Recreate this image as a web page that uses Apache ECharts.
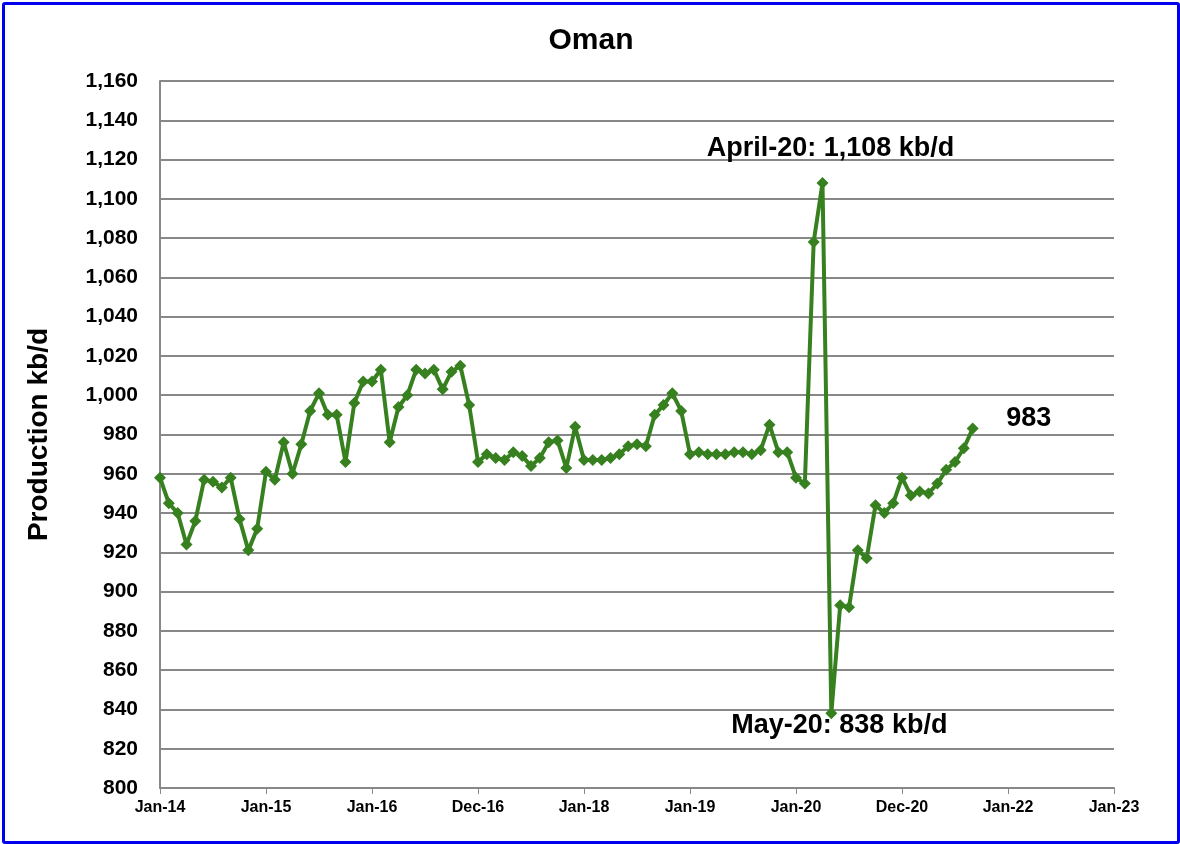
<!DOCTYPE html>
<html><head><meta charset="utf-8">
<script src="https://cdn.jsdelivr.net/npm/echarts@6/dist/echarts.min.js"></script>
<style>html,body{margin:0;padding:0;background:#fff}#c{position:absolute;left:2px;top:2px;width:1172px;height:836px;border:3px solid #0000ee;border-radius:3px}</style>
</head><body><div id="c"></div>
<script>
const tickLabels=['Jan-14','Jan-15','Jan-16','Dec-16','Jan-18','Jan-19','Jan-20','Dec-20','Jan-22','Jan-23'];
const y2014=[958,945,940,924,936,957,956,953,958,937,921,932];
const y2015=[961,957,976,960,975,992,1001,990,990,966,996,1007];
const y2016=[1007,1013,976,994,1000,1013,1011,1013,1003,1012,1015,995];
const y2017=[966,970,968,967,971,969,964,968,976,977,963,984];
const y2018=[967,967,967,968,970,974,975,974,990,995,1001,992];
const y2019=[970,971,970,970,970,971,971,970,972,985,971,971];
const y2020=[958,955,1078,1108,838,893,892,921,917,944,940,945];
const y2021=[958,949,951,950,955,962,966,973,983];
const values=[].concat(y2014,y2015,y2016,y2017,y2018,y2019,y2020,y2021);
const data=values.map((v,i)=>[i/12,v]);
const chart=echarts.init(document.getElementById('c'));
const bold={fontFamily:'Liberation Sans, Arial',fontWeight:'bold',color:'#000'};
chart.setOption({
 animation:false,
 title:{text:'Oman',left:'center',top:16,textStyle:{...bold,fontSize:30}},
 grid:{left:155,right:63,top:76,bottom:53},
 xAxis:{type:'value',min:0,max:9,interval:1,
  axisLine:{lineStyle:{color:'#888',width:2}},axisTick:{show:true,length:6,lineStyle:{color:'#888'}},
  splitLine:{show:false},
  axisLabel:{...bold,fontSize:16,margin:12,formatter:v=>tickLabels[Math.round(v)]}},
 yAxis:{type:'value',min:800,max:1160,interval:20,
  name:'Production kb/d',nameLocation:'middle',nameGap:107,nameTextStyle:{...bold,fontSize:28},
  axisLine:{show:true,lineStyle:{color:'#888',width:2}},axisTick:{show:false},
  splitLine:{lineStyle:{color:'#888',width:2}},
  axisLabel:{...bold,fontSize:21,margin:22,formatter:v=>v.toLocaleString('en-US')}},
 series:[{type:'line',data:data,symbol:'diamond',symbolSize:12,
  lineStyle:{color:'#37801f',width:4},itemStyle:{color:'#37801f'},
  markPoint:{symbol:'circle',symbolSize:0,label:{show:true,...bold,fontSize:27},data:[
   {coord:[75/12,1108],value:'A',label:{formatter:'April-20: 1,108 kb/d',offset:[8,-35]}},
   {coord:[76/12,838],value:'M',label:{formatter:'May-20: 838 kb/d',offset:[8,-6],position:'bottom'}},
   {coord:[92/12,983],value:'983',label:{formatter:'983',offset:[56,-10]}}
  ]}}]
});
</script></body></html>
